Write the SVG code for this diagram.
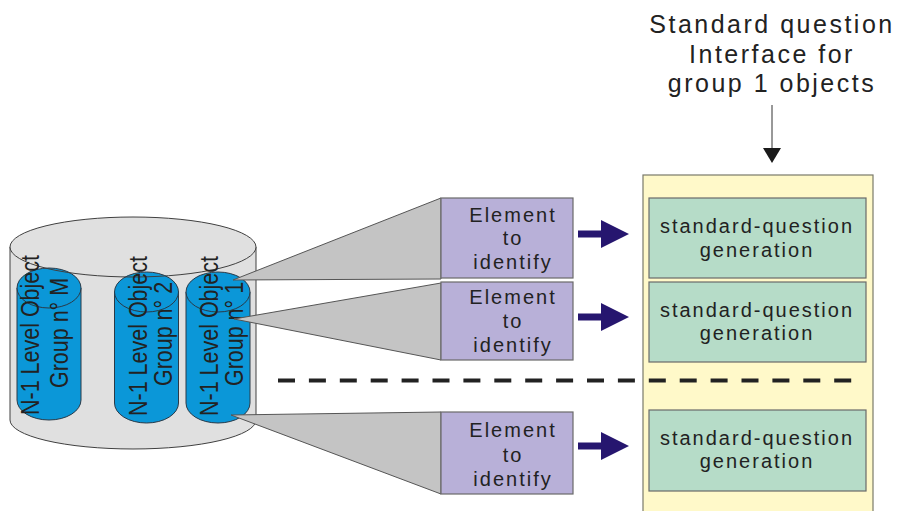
<svg xmlns="http://www.w3.org/2000/svg" width="898" height="511" viewBox="0 0 898 511">
<style>
  .lbl { font-family: "Liberation Sans", Arial, sans-serif; fill: #222; }
  .cyl { fill: #0b97d8; stroke: #2a3a48; stroke-width: 1; }
  .cyltxt { font-size: 21.5px; text-anchor: middle; }
  .call { fill: #c4c4c4; stroke: #555; stroke-width: 1; }
  .elem { fill: #b8b0d8; stroke: #6a6a6a; stroke-width: 1.2; }
  .etxt { font-size: 20px; letter-spacing: 2px; text-anchor: middle; }
  .gen { fill: #b6dcc8; stroke: #6a6a6a; stroke-width: 1.2; }
  .arr { fill: #26166f; }
</style>
<rect width="898" height="511" fill="#ffffff"/>

<!-- Big cylinder (database) -->
<g id="database">
  <path d="M10 247 V420 A123 29 0 0 0 256 420 V247 Z" fill="#e0e0e0" stroke="#404040" stroke-width="1"/>
  <ellipse cx="133" cy="247" rx="123" ry="30" fill="#e0e0e0" stroke="none"/>
</g>

<!-- Small cylinders -->
<g id="groupM">
  <path class="cyl" d="M17 288 V400 A32 20 0 0 0 81 400 V288 Z"/>
  <ellipse class="cyl" cx="49" cy="288" rx="32" ry="20"/>
</g>
<g id="group2">
  <path class="cyl" d="M114.5 292 V403 A32 20 0 0 0 178.5 403 V292 Z"/>
  <ellipse class="cyl" cx="146.5" cy="292" rx="32" ry="20"/>
</g>
<g id="group1">
  <path class="cyl" d="M186 292 V403 A32 20 0 0 0 250 403 V292 Z"/>
  <ellipse class="cyl" cx="218" cy="292" rx="32" ry="20"/>
</g>

<!-- big cylinder top outline over small cylinders -->
<ellipse cx="133" cy="247" rx="123" ry="30" fill="none" stroke="#404040" stroke-width="1"/>

<!-- cylinder labels -->
<g id="labelsM">
  <text class="lbl cyltxt" transform="translate(39,335) rotate(-90) scale(1,1.2)">N-1 Level Object</text>
  <text class="lbl cyltxt" transform="translate(68,333) rotate(-90) scale(1,1.2)">Group n° M</text>
</g>
<g id="labels2">
  <text class="lbl cyltxt" transform="translate(146.5,336) rotate(-90) scale(1,1.2)">N-1 Level Object</text>
  <text class="lbl cyltxt" transform="translate(171.5,334) rotate(-90) scale(1,1.2)">Group n° 2</text>
</g>
<g id="labels1">
  <text class="lbl cyltxt" transform="translate(218,336) rotate(-90) scale(1,1.2)">N-1 Level Object</text>
  <text class="lbl cyltxt" transform="translate(243,334) rotate(-90) scale(1,1.2)">Group n° 1</text>
</g>

<!-- Yellow interface panel -->
<g id="interface">
  <rect x="643" y="175" width="230" height="345" fill="#fff9c9" stroke="#7a7a6a" stroke-width="1.2"/>
</g>

<!-- Connectors: callouts, arrows, dashed separator -->
<g id="connectors">
  <polygon class="call" points="233,280 441,198 441,279"/>
  <polygon class="call" points="234,319 441,283 441,360"/>
  <polygon class="call" points="231,415 441,412 441,494"/>
  <path class="arr" d="M578 230.5 H601 V220 L629 234 L601 248 V237.5 H578 Z"/>
  <path class="arr" d="M578 313.5 H601 V303 L629 317 L601 331 V320.5 H578 Z"/>
  <path class="arr" d="M578 442.5 H601 V432 L629 446 L601 460 V449.5 H578 Z"/>
  <line x1="278" y1="380.5" x2="852" y2="380.5" stroke="#222" stroke-width="4" stroke-dasharray="17 13.9"/>
  <line x1="772" y1="105" x2="772" y2="150" stroke="#333" stroke-width="1"/>
  <polygon points="763,148 781,148 772,163" fill="#1a1a1a"/>
</g>

<!-- Element boxes -->
<g id="element1">
  <rect class="elem" x="441" y="198" width="132" height="80"/>
  <text class="lbl etxt" x="513" y="222">Element</text>
  <text class="lbl etxt" x="513" y="245">to</text>
  <text class="lbl etxt" x="513" y="269">identify</text>
</g>
<g id="element2">
  <rect class="elem" x="441" y="282" width="132" height="78"/>
  <text class="lbl etxt" x="513" y="304">Element</text>
  <text class="lbl etxt" x="513" y="328">to</text>
  <text class="lbl etxt" x="513" y="352">identify</text>
</g>
<g id="element3">
  <rect class="elem" x="441" y="412" width="132" height="82"/>
  <text class="lbl etxt" x="513" y="437">Element</text>
  <text class="lbl etxt" x="513" y="462">to</text>
  <text class="lbl etxt" x="513" y="486">identify</text>
</g>

<!-- Generation boxes -->
<g id="gen1">
  <rect class="gen" x="649" y="198" width="217" height="80"/>
  <text class="lbl etxt" x="757" y="233">standard-question</text>
  <text class="lbl etxt" x="757" y="257">generation</text>
</g>
<g id="gen2">
  <rect class="gen" x="649" y="282" width="217" height="80"/>
  <text class="lbl etxt" x="757" y="317">standard-question</text>
  <text class="lbl etxt" x="757" y="340">generation</text>
</g>
<g id="gen3">
  <rect class="gen" x="649" y="410" width="217" height="81"/>
  <text class="lbl etxt" x="757" y="445">standard-question</text>
  <text class="lbl etxt" x="757" y="468">generation</text>
</g>

<!-- Heading -->
<g id="heading">
  <text class="lbl" font-size="25" letter-spacing="2.5" text-anchor="middle" x="772" y="33">Standard question</text>
  <text class="lbl" font-size="25" letter-spacing="2.5" text-anchor="middle" x="772" y="63">Interface for</text>
  <text class="lbl" font-size="25" letter-spacing="2.5" text-anchor="middle" x="772" y="92">group 1 objects</text>
</g>
</svg>
